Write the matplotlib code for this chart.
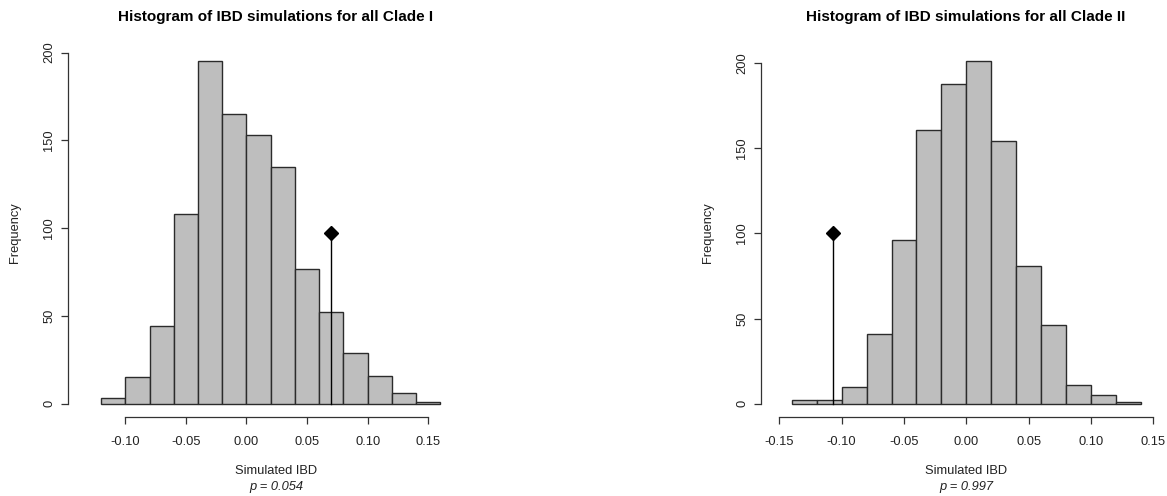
import numpy as np
import matplotlib
matplotlib.use("Agg")
import matplotlib.pyplot as plt

plt.rcParams['font.family'] = ['Liberation Sans', 'DejaVu Sans']

# Clade I simulated IBD histogram
clade1_edges = [-0.12, -0.10, -0.08, -0.06, -0.04, -0.02, 0.00, 0.02,
                0.04, 0.06, 0.08, 0.10, 0.12, 0.14, 0.16]
clade1_counts = [3, 15, 44, 108, 195, 165, 153, 135, 77, 52, 29, 16, 6, 1]
clade1_obs = 0.070
clade1_obs_height = 97
clade1_p = "0.054"
clade1_xticks = [-0.10, -0.05, 0.00, 0.05, 0.10, 0.15]

# Clade II simulated IBD histogram
clade2_edges = [-0.14, -0.12, -0.10, -0.08, -0.06, -0.04, -0.02, 0.00,
                0.02, 0.04, 0.06, 0.08, 0.10, 0.12, 0.14]
clade2_counts = [2, 2, 10, 41, 96, 161, 188, 201, 154, 81, 46, 11, 5, 1]
clade2_obs = -0.107
clade2_obs_height = 100
clade2_p = "0.997"
clade2_xticks = [-0.15, -0.10, -0.05, 0.00, 0.05, 0.10, 0.15]

yticks = [0, 50, 100, 150, 200]

W, H = 1167, 496
fig = plt.figure(figsize=(W / 100, H / 100), dpi=100)
fig.patch.set_facecolor('white')


def draw_panel(rect_px, edges, counts, obs, obs_h, pval, xticks, xlim, title):
    x0, x1, top, bottom = rect_px
    ax = fig.add_axes([x0 / W, 1 - bottom / H, (x1 - x0) / W, (bottom - top) / H])
    edges = np.array(edges)
    ax.bar(edges[:-1], counts, width=np.diff(edges), align='edge',
           color='#bebebe', edgecolor='#2b2b2b', linewidth=1.0)
    ax.plot([obs, obs], [0, obs_h], color='black', linewidth=1.0)
    ax.plot([obs], [obs_h], marker='D', color='black', markersize=7.5)

    ymax = max(counts)
    ax.set_xlim(*xlim)
    ax.set_ylim(-0.04 * ymax, 1.04 * ymax)

    for s in ['top', 'right']:
        ax.spines[s].set_visible(False)
    ax.spines['left'].set_bounds(yticks[0], yticks[-1])
    ax.spines['bottom'].set_bounds(xticks[0], xticks[-1])
    for s in ['left', 'bottom']:
        ax.spines[s].set_color('#333333')
        ax.spines[s].set_linewidth(0.9)

    ax.set_xticks(xticks)
    ax.set_xticklabels([f"{t:.2f}" for t in xticks])
    ax.set_yticks(yticks)
    ax.tick_params(axis='both', direction='out', length=5.3, width=0.9,
                   color='#333333', labelsize=9.3, labelcolor='#222222')
    ax.tick_params(axis='x', pad=8)
    ax.tick_params(axis='y', pad=4, labelrotation=90)
    for lab in ax.get_yticklabels():
        lab.set_verticalalignment('center')

    h_px = bottom - top
    w_px = x1 - x0
    ax.text(0.5, 1 + 31 / h_px, title, transform=ax.transAxes,
            ha='center', va='center', fontsize=11, fontweight='bold')
    ax.text(0.5, -54 / h_px, "Simulated IBD", transform=ax.transAxes,
            ha='center', va='center', fontsize=9.3, color='#222222')
    ax.text(0.5, -70 / h_px, f"p = {pval}", transform=ax.transAxes,
            ha='center', va='center', fontsize=9.3, style='italic', color='#222222')
    ax.text(-53 / w_px, 0.5, "Frequency", transform=ax.transAxes, rotation=90,
            ha='center', va='center', fontsize=9.3, color='#222222')
    return ax


draw_panel((68, 484, 47.7, 417.4), clade1_edges, clade1_counts, clade1_obs,
           clade1_obs_height, clade1_p, clade1_xticks, (-0.1473, 0.196),
           "Histogram of IBD simulations for all Clade I")
draw_panel((761, 1171, 47.7, 417.4), clade2_edges, clade2_counts, clade2_obs,
           clade2_obs_height, clade2_p, clade2_xticks, (-0.1647, 0.1642),
           "Histogram of IBD simulations for all Clade II")

fig.savefig("out.png", dpi=100)
